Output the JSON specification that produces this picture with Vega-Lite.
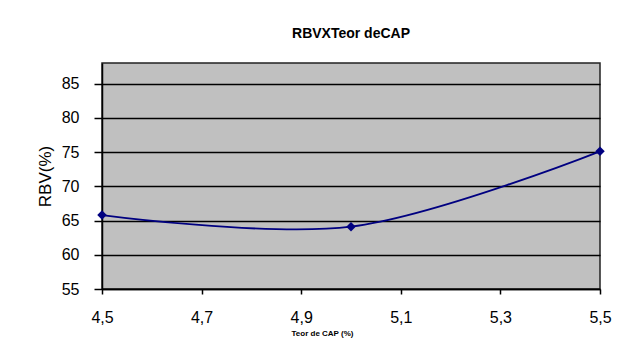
{
  "$schema": "https://vega.github.io/schema/vega-lite/v6.json",
  "width": 498,
  "height": 226,
  "autosize": {"type": "none"},
  "padding": {"left": 102, "top": 63, "right": 42, "bottom": 58},
  "background": "white",
  "title": {
    "text": "RBVXTeor deCAP",
    "font": "Liberation Sans",
    "fontSize": 14,
    "fontWeight": "bold",
    "color": "#000000",
    "offset": 22
  },
  "config": {
    "view": {"fill": "#c0c0c0", "stroke": "#222222", "strokeWidth": 1.5},
    "axis": {
      "labelFont": "Liberation Sans",
      "labelFontSize": 16,
      "labelColor": "#000000",
      "labelOverlap": false,
      "labelFlush": false,
      "titleFont": "Liberation Sans",
      "titleColor": "#000000",
      "tickColor": "#000000",
      "domainColor": "#000000",
      "domainWidth": 1.5,
      "tickWidth": 1.5
    }
  },
  "data": {
    "values": [
      {"teor": 4.5, "rbv": 65.8},
      {"teor": 5.0, "rbv": 64.1},
      {"teor": 5.5, "rbv": 75.1}
    ]
  },
  "encoding": {
    "x": {
      "field": "teor",
      "type": "quantitative",
      "scale": {"domain": [4.5, 5.5], "nice": false, "zero": false},
      "axis": {
        "values": [4.5, 4.7, 4.9, 5.1, 5.3, 5.5],
        "format": ".1f",
        "labelExpr": "replace(datum.label, '.', ',')",
        "grid": false,
        "tickSize": 5,
        "labelPadding": 15,
        "title": "Teor de CAP (%)",
        "titleFontSize": 8,
        "titleFontWeight": "bold",
        "titleX": 220,
        "titleY": 44,
        "titleBaseline": "middle"
      }
    },
    "y": {
      "field": "rbv",
      "type": "quantitative",
      "scale": {"domain": [55, 88], "nice": false, "zero": false},
      "axis": {
        "values": [55, 60, 65, 70, 75, 80, 85],
        "grid": true,
        "gridColor": "#000000",
        "gridWidth": 1.5,
        "gridOpacity": 1,
        "tickSize": 8,
        "labelPadding": 15,
        "title": "RBV(%)",
        "titleFontSize": 17,
        "titleFontWeight": "normal",
        "titlePadding": 7
      }
    }
  },
  "layer": [
    {
      "mark": {"type": "line", "interpolate": "catmull-rom", "color": "#000080", "strokeWidth": 1.8}
    },
    {
      "mark": {"type": "point", "shape": "diamond", "filled": true, "color": "#000080", "size": 90, "opacity": 1}
    }
  ]
}
